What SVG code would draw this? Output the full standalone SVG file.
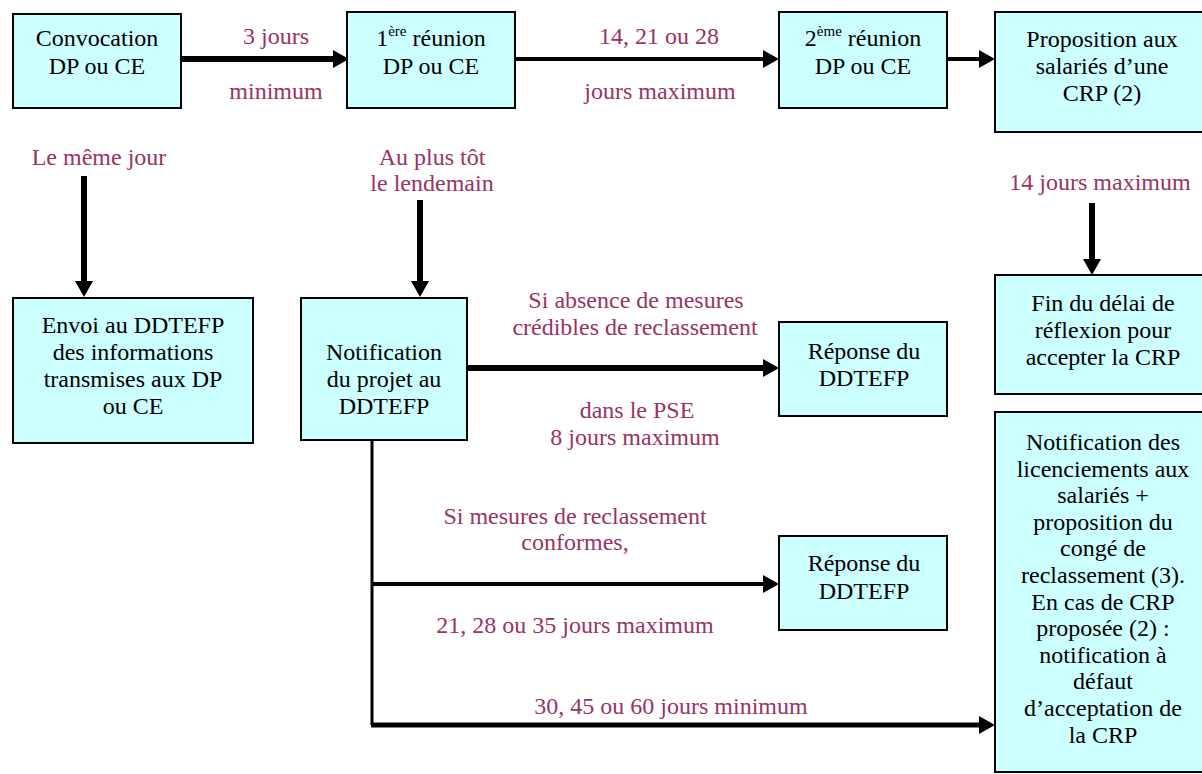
<svg xmlns="http://www.w3.org/2000/svg" width="1202" height="774" viewBox="0 0 1202 774" style="font-family: 'Liberation Serif', serif">
  <style>
    .box { fill: #CCFFFF; stroke: #000; stroke-width: 2; }
    .t { fill: #000; font-size: 24px; text-anchor: middle; }
    .lbl { fill: #993366; font-size: 24px; text-anchor: middle; }
    .ln { fill: none; stroke: #000; }
  </style>
  <defs>
    <marker id="arrow" markerUnits="userSpaceOnUse" markerWidth="17" markerHeight="18" refX="0" refY="9" orient="auto">
      <path d="M0,0 L16,9 L0,18 Z" fill="#000"/>
    </marker>
  </defs>

  <!-- connectors -->
  <g id="connectors">
    <path class="ln" d="M181,59 H333" stroke-width="6" stroke-linecap="round" marker-end="url(#arrow)"/>
    <path class="ln" d="M515,59 H763" stroke-width="4" marker-end="url(#arrow)"/>
    <path class="ln" d="M947,59 H979" stroke-width="4" marker-end="url(#arrow)"/>
    <path class="ln" d="M1092,203 V259" stroke-width="6" marker-end="url(#arrow)"/>
    <path class="ln" d="M84,176 V281" stroke-width="6" marker-end="url(#arrow)"/>
    <path class="ln" d="M420,200 V281" stroke-width="6" marker-end="url(#arrow)"/>
    <path class="ln" d="M467,368 H763" stroke-width="6" marker-end="url(#arrow)"/>
    <path class="ln" d="M372,440 V725" stroke-width="3"/>
    <path class="ln" d="M371,584 H763" stroke-width="4" marker-end="url(#arrow)"/>
    <path class="ln" d="M371,725 H979" stroke-width="5" marker-end="url(#arrow)"/>
  </g>

  <!-- connector labels -->
  <g id="labels">
    <text class="lbl" style="font-family: 'Liberation Serif', serif" x="276" y="44">3 jours</text>
    <text class="lbl" style="font-family: 'Liberation Serif', serif" x="276" y="99">minimum</text>
    <text class="lbl" style="font-family: 'Liberation Serif', serif" x="659" y="44">14, 21 ou 28</text>
    <text class="lbl" style="font-family: 'Liberation Serif', serif" x="660" y="99">jours maximum</text>
    <text class="lbl" style="font-family: 'Liberation Serif', serif" x="1100" y="190">14 jours maximum</text>
    <text class="lbl" style="font-family: 'Liberation Serif', serif" x="99" y="165">Le même jour</text>
    <text class="lbl" style="font-family: 'Liberation Serif', serif" x="432" y="165">Au plus tôt</text>
    <text class="lbl" style="font-family: 'Liberation Serif', serif" x="432" y="191">le lendemain</text>
    <text class="lbl" style="font-family: 'Liberation Serif', serif" x="636" y="308">Si absence de mesures</text>
    <text class="lbl" style="font-family: 'Liberation Serif', serif" x="635" y="335">crédibles de reclassement</text>
    <text class="lbl" style="font-family: 'Liberation Serif', serif" x="637" y="418">dans le PSE</text>
    <text class="lbl" style="font-family: 'Liberation Serif', serif" x="635" y="445">8 jours maximum</text>
    <text class="lbl" style="font-family: 'Liberation Serif', serif" x="575" y="524">Si mesures de reclassement</text>
    <text class="lbl" style="font-family: 'Liberation Serif', serif" x="575" y="550">conformes,</text>
    <text class="lbl" style="font-family: 'Liberation Serif', serif" x="575" y="633">21, 28 ou 35 jours maximum</text>
    <text class="lbl" style="font-family: 'Liberation Serif', serif" x="671" y="714">30, 45 ou 60 jours minimum</text>
  </g>

  <g id="convocation">
    <rect class="box" x="13" y="14" width="168" height="94"/>
    <text class="t" style="font-family: 'Liberation Serif', serif" x="97" y="46">Convocation</text>
    <text class="t" style="font-family: 'Liberation Serif', serif" x="97" y="74">DP ou CE</text>
  </g>

  <g id="reunion1">
    <rect class="box" x="347" y="12" width="168" height="96"/>
    <text class="t" style="font-family: 'Liberation Serif', serif" x="431" y="46">1<tspan font-size="15" dy="-10">ère</tspan><tspan dy="10"> réunion</tspan></text>
    <text class="t" style="font-family: 'Liberation Serif', serif" x="431" y="74">DP ou CE</text>
  </g>

  <g id="reunion2">
    <rect class="box" x="779" y="12" width="168" height="96"/>
    <text class="t" style="font-family: 'Liberation Serif', serif" x="863" y="46">2<tspan font-size="15" dy="-10">ème</tspan><tspan dy="10"> réunion</tspan></text>
    <text class="t" style="font-family: 'Liberation Serif', serif" x="863" y="74">DP ou CE</text>
  </g>

  <g id="proposition-crp">
    <rect class="box" x="995" y="12" width="216" height="120"/>
    <text class="t" style="font-family: 'Liberation Serif', serif" x="1102" y="47">Proposition aux</text>
    <text class="t" style="font-family: 'Liberation Serif', serif" x="1102" y="74">salariés d’une</text>
    <text class="t" style="font-family: 'Liberation Serif', serif" x="1102" y="101">CRP (2)</text>
  </g>

  <g id="fin-delai">
    <rect class="box" x="995" y="275" width="216" height="119"/>
    <text class="t" style="font-family: 'Liberation Serif', serif" x="1103" y="311">Fin du délai de</text>
    <text class="t" style="font-family: 'Liberation Serif', serif" x="1103" y="338">réflexion pour</text>
    <text class="t" style="font-family: 'Liberation Serif', serif" x="1103" y="365">accepter la CRP</text>
  </g>

  <g id="envoi-ddtefp">
    <rect class="box" x="13" y="298" width="240" height="145"/>
    <text class="t" style="font-family: 'Liberation Serif', serif" x="133" y="333">Envoi au DDTEFP</text>
    <text class="t" style="font-family: 'Liberation Serif', serif" x="133" y="360">des informations</text>
    <text class="t" style="font-family: 'Liberation Serif', serif" x="133" y="387">transmises aux DP</text>
    <text class="t" style="font-family: 'Liberation Serif', serif" x="133" y="414">ou CE</text>
  </g>

  <g id="notification-projet">
    <rect class="box" x="301" y="298" width="166" height="142"/>
    <text class="t" style="font-family: 'Liberation Serif', serif" x="384" y="360">Notification</text>
    <text class="t" style="font-family: 'Liberation Serif', serif" x="384" y="387">du projet au</text>
    <text class="t" style="font-family: 'Liberation Serif', serif" x="384" y="414">DDTEFP</text>
  </g>

  <g id="reponse1">
    <rect class="box" x="779" y="322" width="168" height="94"/>
    <text class="t" style="font-family: 'Liberation Serif', serif" x="864" y="359">Réponse du</text>
    <text class="t" style="font-family: 'Liberation Serif', serif" x="864" y="386">DDTEFP</text>
  </g>

  <g id="reponse2">
    <rect class="box" x="779" y="536" width="168" height="94"/>
    <text class="t" style="font-family: 'Liberation Serif', serif" x="864" y="571">Réponse du</text>
    <text class="t" style="font-family: 'Liberation Serif', serif" x="864" y="599">DDTEFP</text>
  </g>

  <g id="notification-licenciements">
    <rect class="box" x="995" y="412" width="216" height="360"/>
    <text class="t" style="font-family: 'Liberation Serif', serif" x="1103" y="450">Notification des</text>
    <text class="t" style="font-family: 'Liberation Serif', serif" x="1103" y="476.6">licenciements aux</text>
    <text class="t" style="font-family: 'Liberation Serif', serif" x="1103" y="503.2">salariés +</text>
    <text class="t" style="font-family: 'Liberation Serif', serif" x="1103" y="529.8">proposition du</text>
    <text class="t" style="font-family: 'Liberation Serif', serif" x="1103" y="556.4">congé de</text>
    <text class="t" style="font-family: 'Liberation Serif', serif" x="1103" y="583">reclassement (3).</text>
    <text class="t" style="font-family: 'Liberation Serif', serif" x="1103" y="609.6">En cas de CRP</text>
    <text class="t" style="font-family: 'Liberation Serif', serif" x="1103" y="636.2">proposée (2) :</text>
    <text class="t" style="font-family: 'Liberation Serif', serif" x="1103" y="662.8">notification à</text>
    <text class="t" style="font-family: 'Liberation Serif', serif" x="1103" y="689.4">défaut</text>
    <text class="t" style="font-family: 'Liberation Serif', serif" x="1103" y="716">d’acceptation de</text>
    <text class="t" style="font-family: 'Liberation Serif', serif" x="1103" y="742.6">la CRP</text>
  </g>
</svg>
